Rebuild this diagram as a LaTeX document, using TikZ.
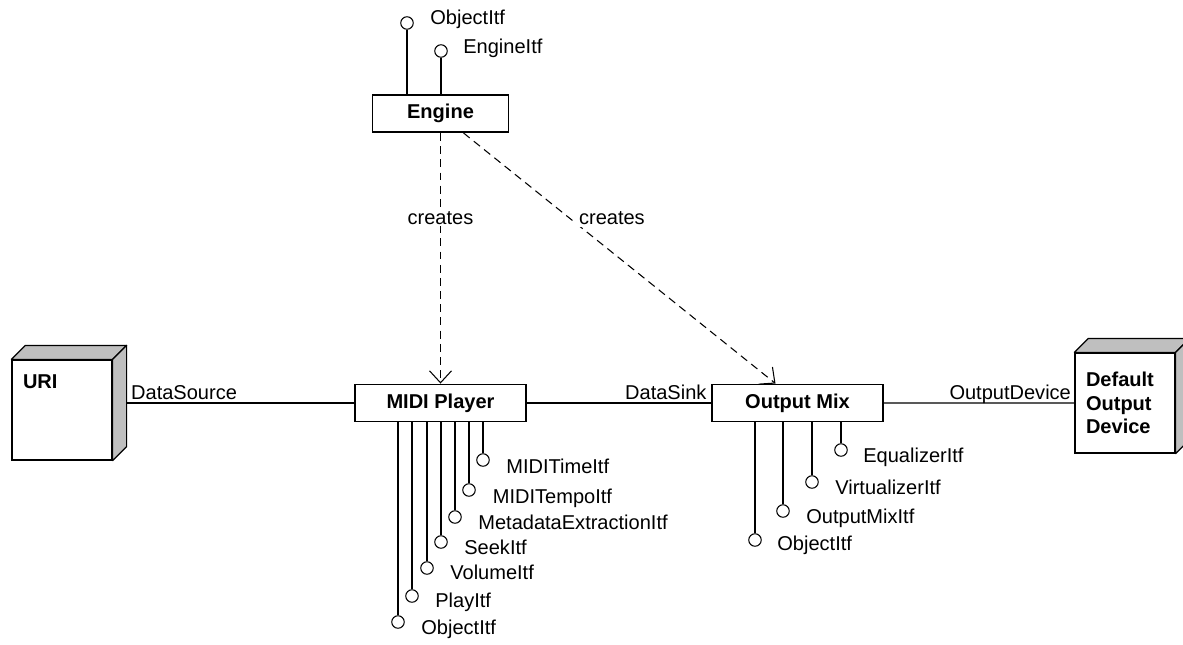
\documentclass[tikz,border=0pt]{standalone}
\usepackage{fontspec}
\setmainfont{Liberation Sans}
\usepackage{tikz}
\usetikzlibrary{positioning,shapes,arrows.meta}
\newcommand{\diagfont}{\fontsize{11.4}{13.4}\selectfont}
\tikzstyle{block} = [rectangle, minimum width=3.42cm, minimum height=0.74cm, text centered, draw=black, line width=1.1pt, fill=white, font=\diagfont\bfseries]
\tikzstyle{device} = [rectangle, minimum width=2cm, minimum height=2cm, text width=1.56cm, align=left, draw=black, line width=0.7pt, fill=white, font=\diagfont\bfseries]
\tikzstyle{face} = [draw=black, line width=0.7pt, fill=black!25, line join=round]
\tikzstyle{lolli} = [circle, minimum size=0.25cm, inner sep=0pt, draw=black, line width=0.6pt, fill=white]
\tikzstyle{itf} = [anchor=base west, inner sep=0pt]
\tikzstyle{link} = [line width=0.6pt]
\tikzstyle{arrow} = [line width=0.6pt, dash pattern=on 4.5pt off 3pt, -{Straight Barb[length=6.8pt,width=12.5pt]}]

\begin{document}
\begin{tikzpicture}[font=\diagfont]
\useasboundingbox (0,0) rectangle (23.66,-12.9);
% main boxes
\node[block,minimum width=2.72cm] (engine) at (8.81,-2.27) {Engine};
\node[block] (player) at (engine) [yshift=-5.79cm] {MIDI Player};
\node[block] (mix) at (player) [xshift=7.14cm] {Output Mix};
\node[device,text depth=1.13cm] (uri) at (1.24,-8.2) {URI};
\node[device] (outdev) at (22.5,-8.06) {Default\\Output\\Device};
% 3d faces
\draw[face] (uri.north west) -- ++(0.28,0.28) -- ([shift={(0.28,0.28)}]uri.north east) -- (uri.north east) -- cycle;
\draw[face] (uri.north east) -- ++(0.28,0.28) -- ([shift={(0.28,0.28)}]uri.south east) -- (uri.south east) -- cycle;
\draw[face] (outdev.north west) -- ++(0.28,0.28) -- ([shift={(0.28,0.28)}]outdev.north east) -- (outdev.north east) -- cycle;
\draw[face] (outdev.north east) -- ++(0.28,0.28) -- ([shift={(0.28,0.28)}]outdev.south east) -- (outdev.south east) -- cycle;
\path (uri.east |- player.west) ++(0.28,0) coordinate (uriport);
% data links
\draw[link] (uriport) -- (player.west) node[pos=0,anchor=base west,inner sep=0pt,xshift=2.3pt,yshift=1.8pt] (srclbl) {DataSource};
\draw[link] (player.east) -- (mix.west) node[pos=1,anchor=base east,inner sep=0pt,xshift=-2.3pt,yshift=1.8pt] (sinklbl) {DataSink};
\draw[link] (mix.east) -- (outdev.west) node[pos=1,anchor=base east,inner sep=0pt,xshift=-1.7pt,yshift=1.8pt] (devlbl) {OutputDevice};
% creates
\draw[arrow] (engine.south) -- (player.north) node[pos=0.34,fill=white,inner sep=1pt] (cr1) {creates};
\draw[arrow] ([xshift=0.46cm]engine.south) -- ([xshift=-0.44cm]mix.north) node[pos=0.34,anchor=west,fill=white,inner sep=1.5pt,xshift=3.6pt] (cr2) {creates};
% engine interfaces
\node[lolli] (engobj) at (8.14,-0.46) {};
\node[itf] (engobjl) at (engobj) [xshift=0.46cm,yshift=-0.02cm] {ObjectItf};
\node[lolli] (engitf) at (8.82,-1.02) {};
\node[itf] (engitfl) at (engitf) [xshift=0.44cm,yshift=-0.04cm] {EngineItf};
\draw[link] (engobj.south) -- (engobj.south |- engine.north);
\draw[link] (engitf.south) -- (engitf.south |- engine.north);
% player interfaces
\node[lolli] (mpobj) at (7.96,-12.44) {};
\node[itf] (mpobjl) at (mpobj) [xshift=0.46cm,yshift=-0.24cm] {ObjectItf};
\node[lolli] (mpplay) at (8.24,-11.92) {};
\node[itf] (mpplayl) at (mpplay) [xshift=0.46cm,yshift=-0.22cm] {PlayItf};
\node[lolli] (mpvol) at (8.54,-11.36) {};
\node[itf] (mpvoll) at (mpvol) [xshift=0.46cm,yshift=-0.22cm] {VolumeItf};
\node[lolli] (mpseek) at (8.82,-10.84) {};
\node[itf] (mpseekl) at (mpseek) [xshift=0.46cm,yshift=-0.24cm] {SeekItf};
\node[lolli] (mpmeta) at (9.10,-10.34) {};
\node[itf] (mpmetal) at (mpmeta) [xshift=0.46cm,yshift=-0.24cm] {MetadataExtractionItf};
\node[lolli] (mptempo) at (9.38,-9.80) {};
\node[itf] (mptempol) at (mptempo) [xshift=0.47cm,yshift=-0.26cm] {MIDITempoItf};
\node[lolli] (mptime) at (9.66,-9.20) {};
\node[itf] (mptimel) at (mptime) [xshift=0.46cm,yshift=-0.26cm] {MIDITimeItf};
\draw[link] (mpobj.north) -- (mpobj.north |- player.south);
\draw[link] (mpplay.north) -- (mpplay.north |- player.south);
\draw[link] (mpvol.north) -- (mpvol.north |- player.south);
\draw[link] (mpseek.north) -- (mpseek.north |- player.south);
\draw[link] (mpmeta.north) -- (mpmeta.north |- player.south);
\draw[link] (mptempo.north) -- (mptempo.north |- player.south);
\draw[link] (mptime.north) -- (mptime.north |- player.south);
% mix interfaces
\node[lolli] (omobj) at (15.10,-10.80) {};
\node[itf] (omobjl) at (omobj) [xshift=0.44cm,yshift=-0.20cm] {ObjectItf};
\node[lolli] (ommix) at (15.66,-10.22) {};
\node[itf] (ommixl) at (ommix) [xshift=0.46cm,yshift=-0.24cm] {OutputMixItf};
\node[lolli] (omvirt) at (16.24,-9.64) {};
\node[itf] (omvirtl) at (omvirt) [xshift=0.46cm,yshift=-0.24cm] {VirtualizerItf};
\node[lolli] (omeq) at (16.82,-9.00) {};
\node[itf] (omeql) at (omeq) [xshift=0.44cm,yshift=-0.24cm] {EqualizerItf};
\draw[link] (omobj.north) -- (omobj.north |- mix.south);
\draw[link] (ommix.north) -- (ommix.north |- mix.south);
\draw[link] (omvirt.north) -- (omvirt.north |- mix.south);
\draw[link] (omeq.north) -- (omeq.north |- mix.south);
\end{tikzpicture}
\end{document}
